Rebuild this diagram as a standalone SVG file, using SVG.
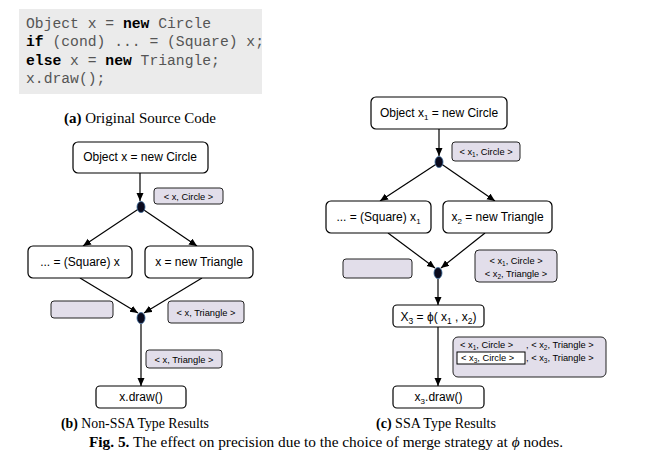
<svg xmlns="http://www.w3.org/2000/svg" width="649" height="458" viewBox="0 0 649 458">
<defs>
<marker id="ah" markerUnits="userSpaceOnUse" markerWidth="9" markerHeight="8" refX="8" refY="3.5" orient="auto"><path d="M0,0 L8,3.5 L0,7 z" fill="#000"/></marker>
<style>
.box{fill:#fff;stroke:#000;stroke-width:1.2}
.lab{fill:#e2deea;stroke:#222;stroke-width:1}
.t{font-family:"Liberation Sans",Arial,sans-serif;font-size:12px;fill:#000;text-anchor:middle}
.s{font-family:"Liberation Sans",Arial,sans-serif;font-size:9.3px;fill:#000}
.c{font-family:"Liberation Mono","Courier New",monospace;font-size:14.7px;fill:#555}
.k{font-weight:bold;fill:#000}
.cap{font-family:"Liberation Serif","Times New Roman",serif;font-size:14.5px;fill:#000}
.e{stroke:#000;stroke-width:1.2;fill:none}
.nd{fill:#0b0b1e;stroke:#3a6a9a;stroke-width:0.8}
</style>
</defs>
<rect width="649" height="458" fill="#fff"/>
<g id="code">
<rect x="19" y="9" width="243" height="85" fill="#ebebeb"/>
<text class="c" x="26" y="28">Object x = <tspan class="k">new</tspan> Circle</text>
<text class="c" x="26" y="46"><tspan class="k">if</tspan> (cond) ... = (Square) x;</text>
<text class="c" x="26" y="65"><tspan class="k">else</tspan> x = <tspan class="k">new</tspan> Triangle;</text>
<text class="c" x="26" y="83">x.draw();</text>
</g>
<g id="captions" class="cap">
<text x="64" y="123" textLength="152" lengthAdjust="spacingAndGlyphs"><tspan font-weight="bold">(a)</tspan> Original Source Code</text>
<text x="61" y="428" textLength="148" lengthAdjust="spacingAndGlyphs"><tspan font-weight="bold">(b)</tspan> Non-SSA Type Results</text>
<text x="376" y="428" textLength="120" lengthAdjust="spacingAndGlyphs"><tspan font-weight="bold">(c)</tspan> SSA Type Results</text>
<text x="89" y="447" textLength="474" lengthAdjust="spacingAndGlyphs"><tspan font-weight="bold">Fig. 5.</tspan> The effect on precision due to the choice of merge strategy at <tspan font-style="italic">ϕ</tspan> nodes.</text>
</g>
<g id="connectors">
<line class="e" x1="140" y1="173" x2="140" y2="201" marker-end="url(#ah)"/>
<line class="e" x1="140" y1="208" x2="83" y2="246" marker-end="url(#ah)"/>
<line class="e" x1="141" y1="208" x2="197" y2="246" marker-end="url(#ah)"/>
<line class="e" x1="80" y1="278" x2="138" y2="313" marker-end="url(#ah)"/>
<line class="e" x1="202" y1="278" x2="144" y2="313" marker-end="url(#ah)"/>
<line class="e" x1="141" y1="324" x2="141" y2="386" marker-end="url(#ah)"/>
<line class="e" x1="439" y1="129" x2="439" y2="156" marker-end="url(#ah)"/>
<line class="e" x1="438" y1="163" x2="380" y2="201" marker-end="url(#ah)"/>
<line class="e" x1="440" y1="163" x2="495" y2="201" marker-end="url(#ah)"/>
<line class="e" x1="388" y1="233" x2="435" y2="268" marker-end="url(#ah)"/>
<line class="e" x1="485" y1="233" x2="441" y2="268" marker-end="url(#ah)"/>
<line class="e" x1="438" y1="279" x2="438" y2="305" marker-end="url(#ah)"/>
<line class="e" x1="438" y1="327" x2="438" y2="386" marker-end="url(#ah)"/>
</g>
<g id="b-top"><rect class="box" x="73" y="142" width="135" height="31" rx="5"/><text class="t" x="140" y="161">Object x = new Circle</text></g>
<g id="b-split"><ellipse class="nd" cx="141" cy="207" rx="4" ry="5.5"/></g>
<g id="b-lab1"><rect class="lab" x="154" y="188" width="69" height="16" rx="3"/><text class="s" x="188.5" y="199.5" text-anchor="middle">&lt; x, Circle &gt;</text></g>
<g id="b-left"><rect class="box" x="28" y="246" width="104" height="32" rx="5"/><text class="t" x="80" y="266">...  = (Square) x</text></g>
<g id="b-right"><rect class="box" x="145" y="246" width="108" height="32" rx="5"/><text class="t" x="199" y="266">x = new Triangle</text></g>
<g id="b-empty"><rect class="lab" x="51" y="301" width="62" height="17" rx="3"/></g>
<g id="b-merge"><ellipse class="nd" cx="141" cy="318" rx="4" ry="5.5"/></g>
<g id="b-lab2"><rect class="lab" x="168" y="301" width="76" height="22" rx="3"/><text class="s" x="206" y="315.5" text-anchor="middle">&lt; x, Triangle &gt;</text></g>
<g id="b-lab3"><rect class="lab" x="146" y="350" width="76" height="18" rx="3"/><text class="s" x="184" y="362.5" text-anchor="middle">&lt; x, Triangle &gt;</text></g>
<g id="b-draw"><rect class="box" x="96" y="386" width="90" height="22" rx="4"/><text class="t" x="141" y="401">x.draw()</text></g>

<g id="c-top"><rect class="box" x="371" y="97" width="136" height="32" rx="5"/><text class="t" x="439" y="117">Object x<tspan font-size="8" dy="3">1</tspan><tspan dy="-3"> = new Circle</tspan></text></g>
<g id="c-split"><ellipse class="nd" cx="439" cy="162" rx="4" ry="5.5"/></g>
<g id="c-lab1"><rect class="lab" x="452" y="142" width="68" height="19" rx="3"/><text class="s" x="486" y="155" text-anchor="middle">&lt; x<tspan font-size="6.5" dy="2">1</tspan><tspan dy="-2">, Circle &gt;</tspan></text></g>
<g id="c-left"><rect class="box" x="326" y="201" width="105" height="32" rx="5"/><text class="t" x="378.5" y="221">...  = (Square) x<tspan font-size="8" dy="3">1</tspan></text></g>
<g id="c-right"><rect class="box" x="443" y="201" width="109" height="32" rx="5"/><text class="t" x="497.5" y="221">x<tspan font-size="8" dy="3">2</tspan><tspan dy="-3"> = new Triangle</tspan></text></g>
<g id="c-empty"><rect class="lab" x="343" y="259" width="69" height="19" rx="3"/></g>
<g id="c-merge"><ellipse class="nd" cx="438" cy="273" rx="4" ry="5.5"/></g>
<g id="c-lab2"><rect class="lab" x="475" y="250" width="82" height="32" rx="4"/>
<text class="s" x="516" y="264" text-anchor="middle">&lt; x<tspan font-size="6.5" dy="2">1</tspan><tspan dy="-2">, Circle &gt;</tspan></text>
<text class="s" x="516" y="276.5" text-anchor="middle">&lt; x<tspan font-size="6.5" dy="2">2</tspan><tspan dy="-2">, Triangle &gt;</tspan></text></g>
<g id="c-phi"><rect class="box" x="393" y="305" width="91" height="22" rx="4"/><text class="t" x="438.5" y="321" font-size="13">X<tspan font-size="8.5" dy="3">3</tspan><tspan dy="-3"> = ϕ( x</tspan><tspan font-size="8.5" dy="3">1</tspan><tspan dy="-3"> , x</tspan><tspan font-size="8.5" dy="3">2</tspan><tspan dy="-3">)</tspan></text></g>
<g id="c-lab3"><rect class="lab" x="453" y="337" width="153" height="40" rx="5"/>
<rect x="457" y="352" width="68" height="12" fill="#fff" stroke="#000" stroke-width="1"/>
<text class="s" x="460" y="348">&lt; x<tspan font-size="6.5" dy="2">1</tspan><tspan dy="-2">, Circle &gt;</tspan></text>
<text class="s" x="526" y="348">, &lt; x<tspan font-size="6.5" dy="2">2</tspan><tspan dy="-2">, Triangle &gt;</tspan></text>
<text class="s" x="461" y="361">&lt; x<tspan font-size="6.5" dy="2">3</tspan><tspan dy="-2">, Circle &gt;</tspan></text>
<text class="s" x="526" y="361">, &lt; x<tspan font-size="6.5" dy="2">3</tspan><tspan dy="-2">, Triangle &gt;</tspan></text></g>
<g id="c-draw"><rect class="box" x="393" y="386" width="91" height="22" rx="4"/><text class="t" x="438.5" y="401">x<tspan font-size="8" dy="3">3</tspan><tspan dy="-3">.draw()</tspan></text></g>
</svg>
